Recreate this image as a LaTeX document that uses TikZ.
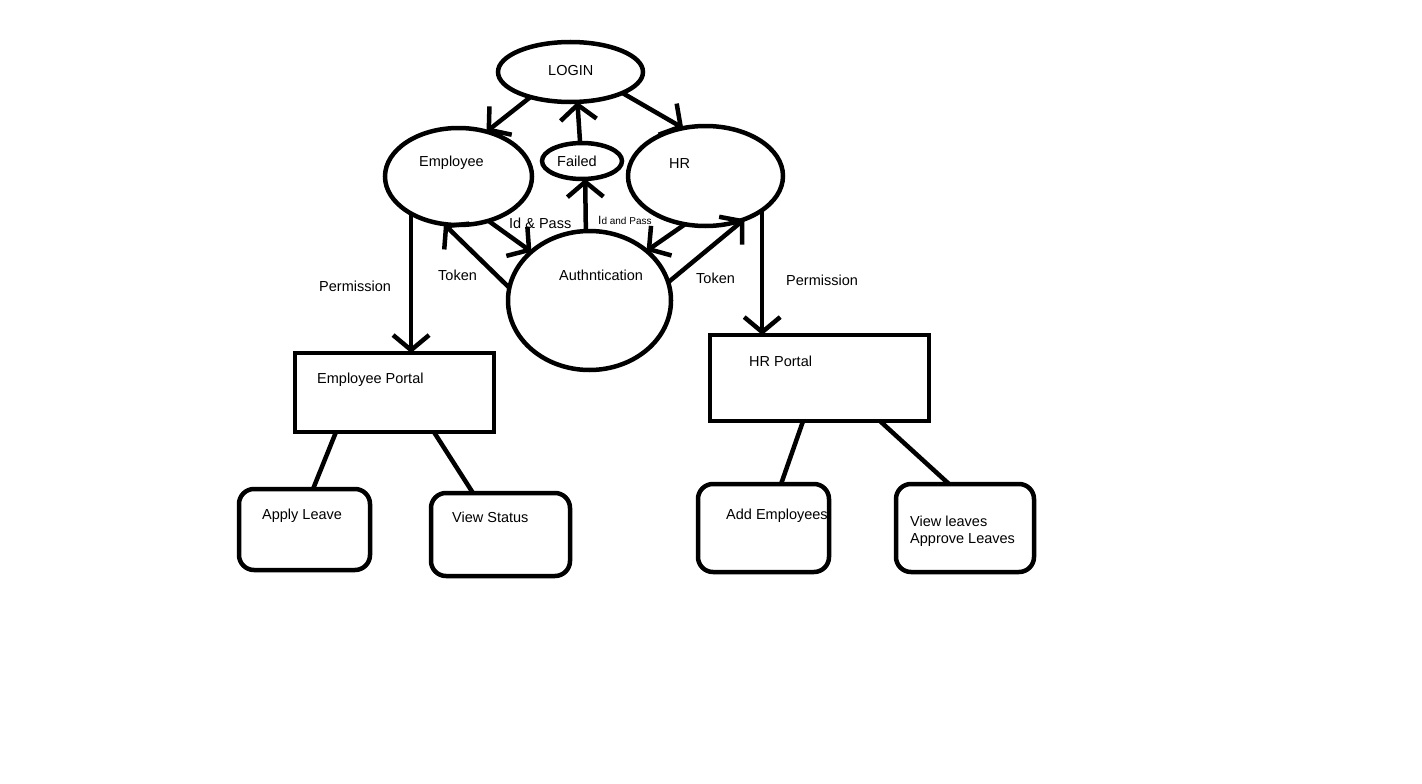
\documentclass[tikz,border=0pt]{standalone}
\usepackage{fontspec}
\setmainfont{Liberation Sans}
\usetikzlibrary{shapes.geometric,arrows.meta,calc}
\begin{document}
\begin{tikzpicture}[x=1pt,y=-1pt,
  oval/.style={ellipse,draw,line width=4.5pt,inner sep=0pt,outer sep=0pt},
  portal/.style={rectangle,draw,line width=4.5pt,inner sep=0pt,outer sep=0pt},
  taskbox/.style={rectangle,draw,line width=4.5pt,rounded corners=15pt,inner sep=0pt,outer sep=0pt},
  txt/.style={font=\fontsize{14.5}{17}\selectfont,inner sep=0pt,anchor=base west},
  smalltxt/.style={font=\fontsize{10}{12}\selectfont,inner sep=0pt,anchor=base west},
  flow/.style={line width=4.5pt,-{Straight Barb[length=15pt,width=36pt,line width=4.5pt]}},
  link/.style={line width=4.5pt}]
\useasboundingbox (0,0) rectangle (1422,784);
\fill[white] (0,0) rectangle (1422,784);

% ellipses of the login flow
\node[oval,minimum width=145pt,minimum height=60pt] (login) at (570.5,72) {};
\node[oval,minimum width=147pt,minimum height=97pt] (emp) at (458.5,176.5) {};
\node[oval,minimum width=80pt,minimum height=36pt] (failed) at (582,161) {};
\node[oval,minimum width=155pt,minimum height=100pt] (hr) at (705.5,176) {};
\node[oval,minimum width=163pt,minimum height=139pt] (auth) at (589.5,300.5) {};

% portals
\node[portal,minimum width=199pt,minimum height=79pt] (eportal) at (394.5,392.5) {};
\node[portal,minimum width=219pt,minimum height=86pt] (hportal) at (819.5,378) {};

% portal tasks
\node[taskbox,minimum width=131pt,minimum height=81pt] (apply) at (304.5,529.5) {};
\node[taskbox,minimum width=139pt,minimum height=83pt] (status) at (500.5,534.5) {};
\node[taskbox,minimum width=131pt,minimum height=88pt] (addemp) at (763.5,528) {};
\node[taskbox,minimum width=138pt,minimum height=88pt] (leaves) at (965,528) {};

% texts
\node[txt] (logintxt) at (548,75) {LOGIN};
\node[txt] (emptxt) at (419,166) {Employee};
\node[txt] (failedtxt) at (557,166) {Failed};
\node[txt] (hrtxt) at (669,168) {HR};
\node[txt] (authtxt) at (559,280) {Authntication};
\node[txt] (idpass) at (509,228) {Id \& Pass};
\node[smalltxt] (idandpass) at (598,224) {{\fontsize{12}{14}\selectfont I}d and Pass};
\node[txt] (tokenl) at (438,280) {Token};
\node[txt] (tokenr) at (696,283) {Token};
\node[txt] (perml) at (319,291) {Permission};
\node[txt] (permr) at (786,285) {Permission};
\node[txt] (eportaltxt) at (317,383) {Employee Portal};
\node[txt] (hportaltxt) at (749,366) {HR Portal};
\node[txt] (applytxt) at (262,519) {Apply Leave};
\node[txt] (statustxt) at (452,522) {View Status};
\node[txt] (addemptxt) at (726,519) {Add Employees};
\node[txt] (leavestxta) at (910,526) {View leaves};
\node[txt] (leavestxtb) at (910,543) {Approve Leaves};

% arrows between the ellipses
\draw[flow] (login.212) -- (emp.58);
\draw[flow] (login.338) -- (hr.115);
\draw[flow] (failed.96) -- (login.283);
\draw[flow] (auth.93) -- (failed.280);
\draw[flow] (emp.304) -- (auth.140);
\draw[flow] (auth.171) -- (emp.253);
\draw[flow] (hr.247) -- (auth.41);
\draw[flow] (auth.13) -- (hr.312);

% permissions down to the portals
\draw[flow] (emp.218) -- (emp.218 |- eportal.north);
\draw[flow] (hr.329) -- (hr.329 |- hportal.north);

% portals to their tasks
\draw[link] ($(eportal.south west)!0.206!(eportal.south east)$) -- ($(apply.north west)!0.565!(apply.north east)$);
\draw[link] ($(eportal.south west)!0.698!(eportal.south east)$) -- ($(status.north west)!0.302!(status.north east)$);
\draw[link] ($(hportal.south west)!0.425!(hportal.south east)$) -- ($(addemp.north west)!0.634!(addemp.north east)$);
\draw[link] ($(hportal.south west)!0.776!(hportal.south east)$) -- ($(leaves.north west)!0.384!(leaves.north east)$);
\end{tikzpicture}
\end{document}
